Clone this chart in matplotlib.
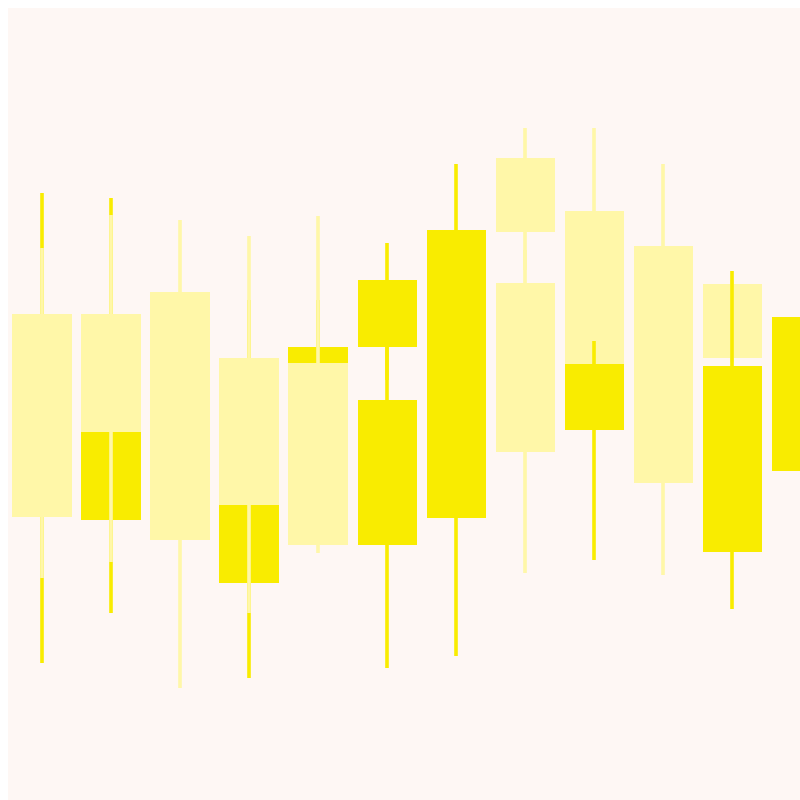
import numpy as np
import matplotlib
matplotlib.use("Agg")
import matplotlib.pyplot as plt

# bright candles that sit underneath the pale ones
under_x     = [0, 1, 3, 4]
under_open  = [115.0, 100.0, 87.5, 113.2]
under_high  = [151.8, 150.5, 125.0, 125.0]
under_low   = [34.2, 46.8, 30.5, 75.0]
under_close = [80.0, 70.0, 54.2, 87.5]

# pale candles
pale_x     = [0, 1, 2, 3, 4, 7, 7, 8, 9, 10]
pale_open  = [121.5, 121.5, 127.0, 110.5, 109.2, 160.5, 129.2, 147.2, 138.5, 129.0]
pale_high  = [138.0, 146.2, 145.0, 141.0, 146.0, 168.0, 137.5, 168.0, 159.0, 130.0]
pale_low   = [55.5, 59.5, 28.0, 46.8, 61.8, 132.5, 56.8, 100.0, 56.2, 109.5]
pale_close = [70.8, 92.0, 65.0, 73.8, 63.8, 142.0, 87.0, 109.0, 79.2, 110.5]

# bright candles drawn on top
over_x     = [5, 5, 6, 8, 10, 11]
over_open  = [130.0, 100.0, 142.5, 109.0, 108.5, 120.8]
over_high  = [139.2, 117.5, 159.0, 114.8, 132.2, 120.8]
over_low   = [105.0, 33.0, 36.0, 60.0, 47.8, 82.2]
over_close = [113.2, 63.8, 70.5, 92.5, 62.0, 82.2]

bright = "#F9EC00"
pale = "#FFF7A8"


def candles(ax, x, o, h, l, c, color, z):
    x = np.array(x, dtype=float)
    o = np.array(o)
    c = np.array(c)
    ax.vlines(x, l, h, color=color, lw=2.6, zorder=z)
    lo = np.minimum(o, c)
    ax.bar(x, np.abs(c - o), bottom=lo, width=0.86, color=color,
           linewidth=0, zorder=z)


fig = plt.figure(figsize=(8, 8), dpi=100, facecolor="white")
ax = fig.add_axes([0.01, 0.0, 0.99, 0.99])
ax.set_facecolor("#FEF7F4")

candles(ax, under_x, under_open, under_high, under_low, under_close, bright, 2)
candles(ax, pale_x, pale_open, pale_high, pale_low, pale_close, pale, 3)
candles(ax, over_x, over_open, over_high, over_low, over_close, bright, 4)

ax.set_xlim(-0.493, 10.98)
ax.set_ylim(0, 198)
ax.set_xticks([])
ax.set_yticks([])
for s in ax.spines.values():
    s.set_visible(False)

fig.savefig("out.png", dpi=100, facecolor="white")
